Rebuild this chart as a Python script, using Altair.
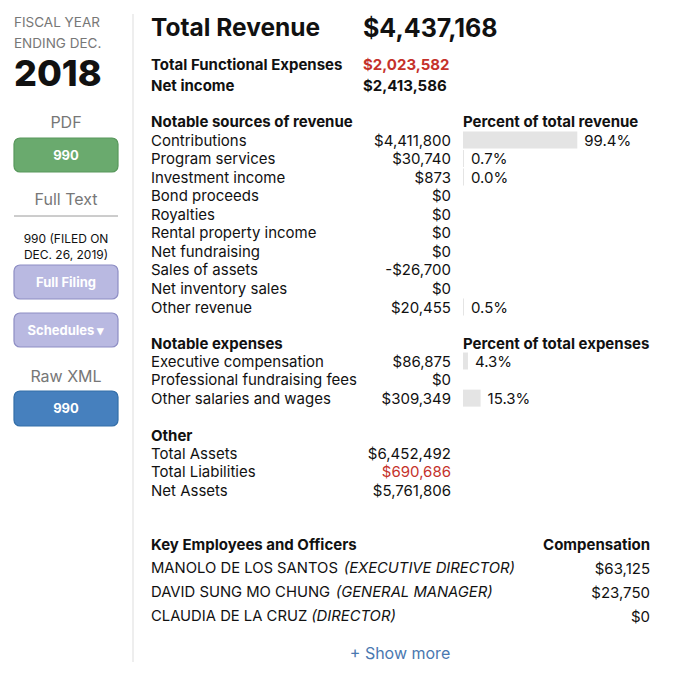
import altair as alt
import pandas as pd

FONT = "Inter"

# ---------------- data ----------------
total_revenue = 4437168
total_expenses = 2023582
net_income = 2413586

revenue_labels = ["Contributions", "Program services", "Investment income", "Bond proceeds",
                  "Royalties", "Rental property income", "Net fundraising", "Sales of assets",
                  "Net inventory sales", "Other revenue"]
revenue_values = [4411800, 30740, 873, 0, 0, 0, 0, -26700, 0, 20455]
revenue_pct = [99.4, 0.7, 0.0, None, None, None, None, None, None, 0.5]

expense_labels = ["Executive compensation", "Professional fundraising fees", "Other salaries and wages"]
expense_values = [86875, 0, 309349]
expense_pct = [4.3, None, 15.3]

other_labels = ["Total Assets", "Total Liabilities", "Net Assets"]
other_values = [6452492, 690686, 5761806]

officer_names = ["MANOLO DE LOS SANTOS", "DAVID SUNG MO CHUNG", "CLAUDIA DE LA CRUZ"]
officer_titles = ["(EXECUTIVE DIRECTOR)", "(GENERAL MANAGER)", "(DIRECTOR)"]
officer_comp = [63125, 23750, 0]

fiscal_year = "2018"
filed_lines = ["990 (FILED ON", "DEC. 26, 2019)"]
button_labels = ["990", "Full Filing", "Schedules ▾", "990"]
sidebar_heads = ["PDF", "Full Text", "Raw XML"]

RED = "#c5322b"
GRAY = "#777777"


def money(v):
    return ("-$" if v < 0 else "$") + f"{abs(v):,}"


# ---------------- layout (page pixel coordinates) ----------------
X = alt.X("x:Q", scale=alt.Scale(domain=[8, 672]), axis=None)
Y = alt.Y("y:Q", scale=alt.Scale(domain=[8, 672], reverse=True), axis=None)

layers = []


def text_layer(rows, size=15, weight="normal", color="#111111", align="left", style="normal"):
    df = pd.DataFrame(rows, columns=["x", "y", "t"])
    return alt.Chart(df).mark_text(
        font=FONT, fontSize=size, fontWeight=weight, color=color, align=align,
        baseline="middle", fontStyle=style, dy=0.5
    ).encode(x=X, y=Y, text="t:N")


# Main header
layers.append(text_layer([(151, 28, "Total Revenue")], size=24.5, weight="bold"))
layers.append(text_layer([(363, 28, money(total_revenue))], size=25, weight="bold"))
layers.append(text_layer([(151, 64, "Total Functional Expenses"), (151, 85, "Net income"),
                          (363, 85, money(net_income))], size=15, weight="bold"))
layers.append(text_layer([(363, 64, money(total_expenses))], size=15, weight="bold", color=RED))

# Section headers
heads = [(151, 121, "Notable sources of revenue"), (463, 121, "Percent of total revenue"),
         (151, 343, "Notable expenses"), (463, 343, "Percent of total expenses"),
         (151, 435, "Other"), (151, 544, "Key Employees and Officers")]
layers.append(text_layer(heads, size=15, weight="bold"))
layers.append(text_layer([(650, 544, "Compensation")], size=15, weight="bold", align="right"))

PITCH = 18.56
rev_y = [140 + i * PITCH for i in range(len(revenue_labels))]
exp_y = [361 + i * PITCH for i in range(len(expense_labels))]
oth_y = [453 + i * PITCH for i in range(len(other_labels))]

labels = ([(151, y, t) for y, t in zip(rev_y, revenue_labels)] +
          [(151, y, t) for y, t in zip(exp_y, expense_labels)] +
          [(151, y, t) for y, t in zip(oth_y, other_labels)])
layers.append(text_layer(labels, size=15))

amounts = ([(451, y, money(v)) for y, v in zip(rev_y, revenue_values)] +
           [(451, y, money(v)) for y, v in zip(exp_y, expense_values)] +
           [(451, oth_y[0], money(other_values[0])), (451, oth_y[2], money(other_values[2]))])
layers.append(text_layer(amounts, size=15, align="right"))
layers.append(text_layer([(451, oth_y[1], money(other_values[1]))], size=15, align="right", color=RED))

# Percent bars
BAR0 = 463
BARW = 1.15  # px per percent
bar_rows = []
pct_rows = []
for ys, pcts in ((rev_y, revenue_pct), (exp_y, expense_pct)):
    for y, p in zip(ys, pcts):
        if p is None:
            continue
        w = max(p * BARW, 1.0)
        bar_rows.append((BAR0, BAR0 + w, y - 8.5, y + 8.5))
        pct_rows.append((BAR0 + w + 7, y, f"{p:.1f}%"))
bars = pd.DataFrame(bar_rows, columns=["x", "x2", "y", "y2"])
layers.append(alt.Chart(bars).mark_rect(color="#e4e4e4").encode(
    x=X, x2="x2:Q", y=Y, y2="y2:Q"))
layers.append(text_layer(pct_rows, size=15))

# Officers
emp_y = [568, 592, 616]
CW = {" ": 0.28, "I": 0.29, "M": 0.88, "W": 0.95, "O": 0.78, "C": 0.74, "G": 0.77, "D": 0.72,
      "Q": 0.78, "N": 0.75, "H": 0.75, "U": 0.74, "A": 0.70, "L": 0.55, "S": 0.68, "E": 0.60,
      "T": 0.62, "R": 0.66, "Z": 0.63, "V": 0.66, "Y": 0.66}
EMP_SIZE = 14.8


def est_width(s, size):
    return sum(CW.get(c, 0.66) for c in s) * size


layers.append(text_layer([(151, y, n) for y, n in zip(emp_y, officer_names)], size=EMP_SIZE))
layers.append(text_layer([(151 + est_width(n, EMP_SIZE) + 3, y, t)
                          for y, n, t in zip(emp_y, officer_names, officer_titles)],
                         size=EMP_SIZE, style="italic"))
layers.append(text_layer([(650, y, money(v)) for y, v in zip(emp_y, officer_comp)], size=15, align="right"))

layers.append(text_layer([(400, 653, "+ Show more")], size=16, color="#4a78b0", align="center"))

# Sidebar
layers.append(text_layer([(14, 22, "FISCAL YEAR"), (14, 43, "ENDING DEC.")], size=13.5, color=GRAY))
layers.append(text_layer([(14, 74, fiscal_year)], size=36, weight=800, color="#111111"))
layers.append(text_layer([(66, 122, sidebar_heads[0]), (66, 199, sidebar_heads[1]),
                          (66, 376, sidebar_heads[2])], size=16, color=GRAY, align="center"))
layers.append(text_layer([(66, 238, filed_lines[0]), (66, 254, filed_lines[1])],
                         size=12, color="#111111", align="center"))

btn_fill = ["#6aaa6e", "#b9b9e1", "#b9b9e1", "#4680be"]
btn_stroke = ["#58985c", "#8e8ec4", "#8e8ec4", "#336ea8"]
btn_y = [(138, 172), (265, 299), (313, 347), (391, 426)]
for (y1, y2), f, s, lab in zip(btn_y, btn_fill, btn_stroke, button_labels):
    d = pd.DataFrame({"x": [14], "x2": [118], "y": [y1], "y2": [y2]})
    layers.append(alt.Chart(d).mark_rect(fill=f, stroke=s, strokeWidth=1.2, cornerRadius=6).encode(
        x=X, x2="x2:Q", y=Y, y2="y2:Q"))
    layers.append(text_layer([(66, (y1 + y2) / 2, lab)], size=13, weight="bold", color="white", align="center"))

# Rules
rules = pd.DataFrame({"x": [14, 133], "x2": [118, 133], "y": [216, 14], "y2": [216, 662],
                      "c": ["#9a9a9a", "#dddddd"]})
layers.append(alt.Chart(rules).mark_rule(strokeWidth=1).encode(
    x=X, x2="x2:Q", y=Y, y2="y2:Q", color=alt.Color("c:N", scale=None)))

chart = alt.layer(*layers).properties(
    width=664, height=664, padding=0,
    autosize=alt.AutoSizeParams(type="fit", contains="padding"),
    background="white",
).configure_view(stroke=None)

chart.save("out.html", embed_options={"renderer": "svg", "actions": False})
